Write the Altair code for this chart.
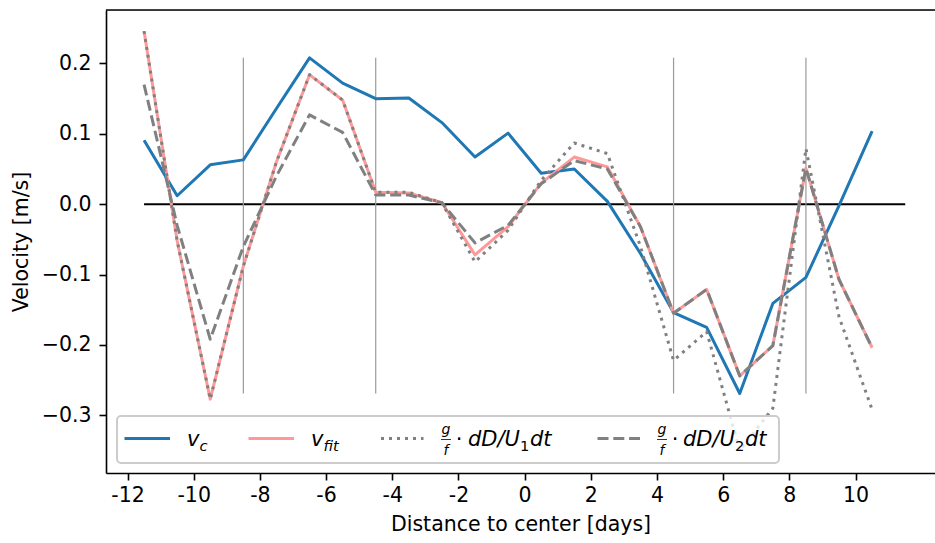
import altair as alt
import pandas as pd

# ---- data -------------------------------------------------------------
days = [-11.5, -10.5, -9.5, -8.5, -7.5, -6.5, -5.5, -4.5, -3.5, -2.5, -1.5, -0.5,
        0.5, 1.5, 2.5, 3.5, 4.5, 5.5, 6.5, 7.5, 8.5, 9.5, 10.5]

v_c = [0.091, 0.012, 0.056, 0.063, 0.136, 0.208, 0.172, 0.150, 0.151, 0.116, 0.067, 0.101,
       0.044, 0.050, 0.004, -0.070, -0.154, -0.175, -0.269, -0.141, -0.104, -0.002, 0.104]

v_fit = [0.246, -0.052, -0.277, -0.088, 0.060, 0.184, 0.148, 0.017, 0.016, 0.002, -0.072, -0.032,
         0.030, 0.067, 0.053, -0.032, -0.155, -0.121, -0.244, -0.201, 0.051, -0.107, -0.204]

v_u1 = [0.246, -0.052, -0.277, -0.088, 0.060, 0.184, 0.148, 0.017, 0.017, 0.002, -0.082, -0.037,
        0.034, 0.087, 0.072, -0.060, -0.222, -0.181, -0.350, -0.290, 0.079, -0.160, -0.292]

v_u2 = [0.170, -0.030, -0.192, -0.060, 0.040, 0.127, 0.102, 0.013, 0.013, 0.002, -0.055, -0.030,
        0.029, 0.062, 0.050, -0.032, -0.155, -0.121, -0.244, -0.201, 0.051, -0.107, -0.204]

segment_edges = [-8.5, -4.5, 4.5, 8.5]
zero_line_span = [-11.5, 11.5]
x_ticks = [-12, -10, -8, -6, -4, -2, 0, 2, 4, 6, 8, 10]
y_ticks = [-0.3, -0.2, -0.1, 0.0, 0.1, 0.2]

# ---- styling ----------------------------------------------------------
W, H = 829, 463
FONT = "DejaVu Sans"
FS = 20.5
BLUE = "#1f77b4"
PINK = "#ff9999"
GREY = "#808080"
DOT = [3, 5]
DASH = [11, 4.8]

x_scale = alt.Scale(domain=[-12.65, 12.4], nice=False, zero=False)
y_scale = alt.Scale(domain=[-0.382, 0.276], nice=False, zero=False)

axis_style = dict(
    grid=False, domainColor="black", domainWidth=1.6, tickColor="black",
    tickWidth=1.6, tickSize=7, labelFont=FONT, labelFontSize=FS, labelColor="black",
    titleFont=FONT, titleFontSize=FS, titleFontWeight="normal", titleColor="black",
)
x_axis = alt.Axis(
    values=x_ticks, title="Distance to center [days]",
    labelExpr="datum.value < 0 ? '-' + abs(datum.value) : '' + datum.value",
    labelPadding=5, titlePadding=9, **axis_style,
)
y_axis = alt.Axis(
    values=y_ticks, title="Velocity [m/s]",
    labelExpr="(datum.value < 0 ? '\u2212' : '') + format(abs(datum.value), '.1f')",
    labelPadding=8, titlePadding=10, **axis_style,
)


def X(field):
    return alt.X(field, type="quantitative", scale=x_scale, axis=x_axis)


def Y(field):
    return alt.Y(field, type="quantitative", scale=y_scale, axis=y_axis)


def series(values, color, dash=None):
    df = pd.DataFrame({"day": days, "v": values})
    kw = dict(color=color, strokeWidth=3, strokeJoin="round", clip=True)
    if dash:
        kw["strokeDash"] = dash
    return alt.Chart(df).mark_line(**kw).encode(x=X("day"), y=Y("v"))


one = pd.DataFrame({"a": [0]})

zero_line = alt.Chart(pd.DataFrame({"x0": [zero_line_span[0]], "x1": [zero_line_span[1]], "y": [0.0]})).mark_rule(
    color="black", strokeWidth=2
).encode(x=X("x0"), x2="x1:Q", y=Y("y"))

edges = alt.Chart(pd.DataFrame({"day": segment_edges, "lo": [min(v_c)] * 4, "hi": [max(v_c)] * 4})).mark_rule(
    color="#9a9a9a", strokeWidth=1.2
).encode(x=X("day"), y=Y("lo"), y2="hi:Q")

top_spine = alt.Chart(one).mark_rule(color="black", strokeWidth=1.6).encode(
    x=alt.value(0), x2=alt.value(W), y=alt.value(0)
)

# ---- legend (drawn in plot pixel space) --------------------------------
legend_box = alt.Chart(one).mark_rect(
    fill="white", fillOpacity=0.8, stroke="#cccccc", strokeWidth=2, cornerRadius=4
).encode(x=alt.value(11), x2=alt.value(673), y=alt.value(406), y2=alt.value(453))


def sample(x0, x1, color, dash=None):
    kw = dict(color=color, strokeWidth=3)
    if dash:
        kw["strokeDash"] = dash
    return alt.Chart(one).mark_rule(**kw).encode(x=alt.value(x0), x2=alt.value(x1), y=alt.value(428.5))


def label(text, x, y, size=21, italic=False, align="left"):
    kw = dict(text=text, font=FONT, fontSize=size, color="black", align=align, baseline="alphabetic")
    if italic:
        kw["fontStyle"] = "italic"
    return alt.Chart(one).mark_text(**kw).encode(x=alt.value(x), y=alt.value(y))


def frac_bar(cx):
    return alt.Chart(one).mark_rule(color="black", strokeWidth=0.8).encode(
        x=alt.value(cx - 5), x2=alt.value(cx + 5), y=alt.value(429.5)
    )


BASE, SUB, SUBFS = 436, 440.5, 14.7

legend_layers = [
    legend_box,
    sample(18.5, 64, BLUE),
    label("v", 81, BASE, italic=True),
    label("c", 93.5, SUB, SUBFS, italic=True),
    sample(142.5, 188, PINK),
    label("v", 205, BASE, italic=True),
    label("fit", 217.5, SUB, SUBFS, italic=True),
    sample(275, 317.5, GREY, DOT),
    label("g", 340, 424, 14, italic=True, align="center"),
    frac_bar(340),
    label("f", 340, 445, 14, italic=True, align="center"),
    label("\u00b7", 353, BASE, align="center"),
    label("dD/U", 362, BASE, italic=True),
    label("1", 414, SUB, SUBFS),
    label("dt", 424, BASE, italic=True),
    sample(491.5, 534, GREY, DASH),
    label("g", 556, 424, 14, italic=True, align="center"),
    frac_bar(556),
    label("f", 556, 445, 14, italic=True, align="center"),
    label("\u00b7", 569, BASE, align="center"),
    label("dD/U", 577, BASE, italic=True),
    label("2", 629, SUB, SUBFS),
    label("dt", 639, BASE, italic=True),
]

chart = alt.layer(
    zero_line,
    edges,
    series(v_c, BLUE),
    series(v_fit, PINK),
    series(v_u1, GREY, DOT),
    series(v_u2, GREY, DASH),
    top_spine,
    *legend_layers,
).properties(
    width=W, height=H,
    autosize=alt.AutoSizeParams(type="none"),
    padding={"left": 106, "top": 10, "right": 0, "bottom": 70},
).configure_view(stroke=None).configure(background="white")

chart.save("out.html", embed_options={"renderer": "svg", "actions": False})
